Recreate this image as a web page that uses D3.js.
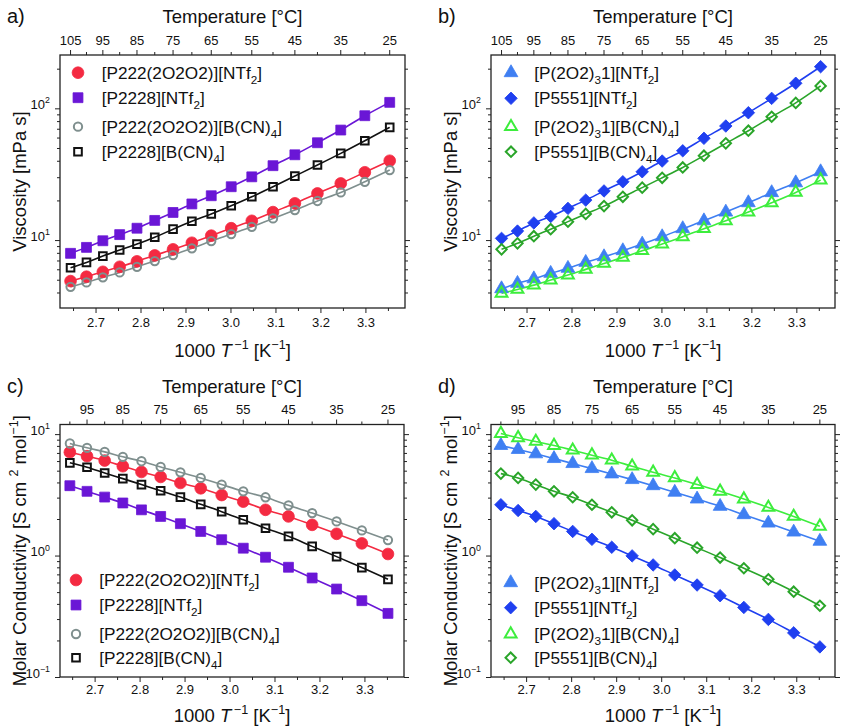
<!DOCTYPE html>
<html>
<head>
<meta charset="utf-8">
<script src="https://cdn.jsdelivr.net/npm/d3@7"></script>
<style>
  body { margin: 0; background: #fff; }
  svg { display: block; font-family: "Liberation Sans", Arial, sans-serif; }
</style>
</head>
<body>
<svg id="chart" width="843" height="728"></svg>
<script>
// measurement temperatures [°C]
const tempsVisc = [105, 100, 95, 90, 85, 80, 75, 70, 65, 60, 55, 50, 45, 40, 35, 30, 25]
const tempsCond = [100, 95, 90, 85, 80, 75, 70, 65, 60, 55, 50, 45, 40, 35, 30, 25]

// tick labels
const bottomMajor = [2.7, 2.8, 2.9, 3.0, 3.1, 3.2, 3.3]
const bottomMinor = [2.65, 2.75, 2.85, 2.95, 3.05, 3.15, 3.25, 3.35]
const topMajorVisc = [105, 95, 85, 75, 65, 55, 45, 35, 25]
const topMinorVisc = [100, 90, 80, 70, 60, 50, 40, 30]
const topMajorCond = [95, 85, 75, 65, 55, 45, 35, 25]
const topMinorCond = [100, 90, 80, 70, 60, 50, 40, 30]

// a) viscosity [mPa s]
const viscP222_NTf2 = [4.88, 5.27, 5.74, 6.27, 6.89, 7.65, 8.50, 9.54, 10.8, 12.3, 14.0, 16.3, 19.0, 22.6, 26.9, 32.7, 40.0]
const viscP2228_NTf2 = [7.93, 8.80, 9.88, 11.0, 12.3, 14.1, 16.2, 18.8, 21.7, 25.4, 30.2, 36.7, 44.4, 54.8, 68.4, 87.9, 111]
const viscP222_BCN4 = [4.42, 4.77, 5.21, 5.68, 6.27, 6.93, 7.69, 8.65, 9.83, 11.1, 12.6, 14.6, 16.9, 19.8, 23.0, 27.7, 34.0]
const viscP2228_BCN4 = [6.16, 6.77, 7.56, 8.40, 9.32, 10.5, 12.1, 13.9, 15.8, 18.2, 21.3, 25.4, 30.6, 37.1, 45.5, 56.8, 71.7]

// b) viscosity [mPa s]
const viscP2O2_NTf2 = [4.27, 4.69, 5.08, 5.59, 6.10, 6.77, 7.47, 8.30, 9.32, 10.6, 12.2, 14.0, 16.3, 19.2, 22.9, 27.2, 33.0]
const viscP5551_NTf2 = [10.3, 11.7, 13.5, 15.1, 17.4, 20.1, 23.6, 27.7, 33.0, 39.8, 47.6, 59.2, 73.4, 92.6, 119, 155, 207]
const viscP2O2_BCN4 = [3.94, 4.22, 4.55, 4.97, 5.42, 5.99, 6.65, 7.39, 8.30, 9.32, 10.6, 12.2, 14.0, 16.3, 19.2, 23.0, 28.5]
const viscP5551_BCN4 = [8.50, 9.44, 10.7, 12.1, 13.8, 15.8, 18.1, 21.3, 25.0, 29.7, 35.6, 43.7, 54.2, 67.6, 86.3, 110, 148]

// c) molar conductivity [S cm2 mol-1]
const condP222_NTf2 = [7.10, 6.58, 6.06, 5.44, 4.88, 4.44, 3.96, 3.58, 3.15, 2.78, 2.38, 2.10, 1.79, 1.51, 1.26, 1.03]
const condP2228_NTf2 = [3.76, 3.38, 3.03, 2.71, 2.38, 2.10, 1.83, 1.58, 1.35, 1.15, 0.969, 0.801, 0.654, 0.530, 0.425, 0.334]
const condP222_BCN4 = [8.37, 7.71, 7.14, 6.50, 5.98, 5.37, 4.85, 4.36, 3.84, 3.38, 3.02, 2.59, 2.24, 1.91, 1.61, 1.34]
const condP2228_BCN4 = [5.80, 5.34, 4.79, 4.30, 3.84, 3.42, 3.03, 2.64, 2.30, 1.97, 1.68, 1.44, 1.19, 0.98, 0.796, 0.637]

// d) molar conductivity [S cm2 mol-1]
const condP2O2_NTf2 = [8.06, 7.47, 6.88, 6.29, 5.72, 5.20, 4.70, 4.22, 3.76, 3.32, 2.92, 2.54, 2.17, 1.85, 1.56, 1.31]
const condP5551_NTf2 = [2.62, 2.35, 2.10, 1.83, 1.58, 1.36, 1.17, 0.994, 0.837, 0.692, 0.572, 0.467, 0.374, 0.298, 0.231, 0.177]
const condP2O2_BCN4 = [10.1, 9.33, 8.70, 8.06, 7.37, 6.71, 6.10, 5.44, 4.85, 4.36, 3.84, 3.38, 2.92, 2.49, 2.10, 1.74]
const condP5551_BCN4 = [4.73, 4.36, 3.84, 3.38, 3.02, 2.62, 2.27, 1.95, 1.65, 1.39, 1.16, 0.963, 0.786, 0.637, 0.504, 0.386]

// legend names (text parts, sub = subscript)
const namesP222 = [
  [{t: "[P222(2O2O2)][NTf"}, {t: "2", sub: 1}, {t: "]"}],
  [{t: "[P2228][NTf"}, {t: "2", sub: 1}, {t: "]"}],
  [{t: "[P222(2O2O2)][B(CN)"}, {t: "4", sub: 1}, {t: "]"}],
  [{t: "[P2228][B(CN)"}, {t: "4", sub: 1}, {t: "]"}]
]
const namesP5551 = [
  [{t: "[P(2O2)"}, {t: "3", sub: 1}, {t: "1][NTf"}, {t: "2", sub: 1}, {t: "]"}],
  [{t: "[P5551][NTf"}, {t: "2", sub: 1}, {t: "]"}],
  [{t: "[P(2O2)"}, {t: "3", sub: 1}, {t: "1][B(CN)"}, {t: "4", sub: 1}, {t: "]"}],
  [{t: "[P5551][B(CN)"}, {t: "4", sub: 1}, {t: "]"}]
]

const colRed = "#f42a41", colPurple = "#6a16d6", colGray = "#7f8f8e", colBlack = "#111111"
const colLBlue = "#3f7ff2", colDBlue = "#1f3ff0", colLGreen = "#3ded3d", colDGreen = "#2aa52a"

const svg = d3.select("#chart")
const inv = t => 1000 / (t + 273.15)

// appends tspans with sub/superscripts to a text element
function rich(text, parts, size) {
  let shift = 0
  parts.forEach(p => {
    let want = p.sub ? 0.3 * size : (p.sup ? -0.42 * size : 0)
    let ts = text.append("tspan").text(p.t).attr("dy", want - shift)
    if (p.sub || p.sup) ts.attr("font-size", size * 0.68)
    if (p.it) ts.attr("font-style", "italic")
    shift = want
  })
}

// marker path, centered at 0,0
function marker(shape, filled) {
  if (shape == "circle") return d3.symbol(d3.symbolCircle, filled ? 108 : 54)()
  if (shape == "square") return d3.symbol(d3.symbolSquare, filled ? 98 : 58)()
  if (shape == "triangle") return d3.symbol(d3.symbolTriangle, filled ? 82 : 60)()
  return d3.symbol(d3.symbolSquare, filled ? 78 : 54)()
}

function drawMarker(sel, s) {
  sel.append("path")
    .attr("d", marker(s.shape, s.filled))
    .attr("transform", s.shape == "diamond" ? "rotate(45)" : null)
    .attr("fill", s.filled ? s.color : "none")
    .attr("stroke", s.color)
    .attr("stroke-width", s.filled ? 0.8 : 2)
}

function drawPanel(p) {
  const box = p.box
  const g = svg.append("g")
  const x = d3.scaleLinear().domain(p.xDom).range([box.l, box.r])
  const xt = d3.scaleLinear().domain(p.xTopDom).range([box.l, box.r])
  const y = d3.scaleLog().domain(p.yDom).range([box.b, box.t])

  const styleAxis = a => {
    a.select(".domain").remove()
    a.attr("font-family", null).attr("font-size", 13).attr("color", "#222")
    a.selectAll("text").attr("fill", "#111")
  }

  // bottom axis
  g.append("g").attr("transform", `translate(0,${box.b})`)
    .call(d3.axisBottom(x).tickValues(bottomMajor).tickFormat(d3.format(".1f")).tickSize(5).tickPadding(p.botPad))
    .call(styleAxis)
  g.append("g").attr("transform", `translate(0,${box.b})`)
    .call(d3.axisBottom(x).tickValues(bottomMinor).tickFormat("").tickSize(3))
    .call(styleAxis)

  // top axis (temperature)
  const xT = d => xt(inv(d))
  const topMaj = g.append("g").attr("transform", `translate(0,${box.t})`)
  topMaj.selectAll("line").data(p.topMajor).join("line")
    .attr("x1", xT).attr("x2", xT).attr("y1", 0).attr("y2", -5).attr("stroke", "#222")
  topMaj.selectAll("line.minor").data(p.topMinor).join("line").attr("class", "minor")
    .attr("x1", xT).attr("x2", xT).attr("y1", 0).attr("y2", -3).attr("stroke", "#222")
  topMaj.selectAll("text").data(p.topMajor).join("text")
    .attr("x", xT).attr("y", -10.5).attr("text-anchor", "middle")
    .attr("font-size", 13).attr("fill", "#111").text(d => d)

  // left + right log axes
  const yt = y.ticks()
  const yMaj = yt.filter(v => Math.abs(Math.log10(v) - Math.round(Math.log10(v))) < 1e-6)
  const yMin = yt.filter(v => !yMaj.includes(v))
  g.append("g").attr("transform", `translate(${box.l},0)`)
    .call(d3.axisLeft(y).tickValues(yMaj).tickFormat("").tickSize(5).tickPadding(5))
    .call(styleAxis)
    .selectAll(".tick text")
    .each(function (d) {
      rich(d3.select(this), [{t: "10"}, {t: String(Math.round(Math.log10(d))).replace("-", "\u2212"), sup: 1}], 13)
    })
  g.append("g").attr("transform", `translate(${box.l},0)`)
    .call(d3.axisLeft(y).tickValues(yMin).tickFormat("").tickSize(3)).call(styleAxis)
  g.append("g").attr("transform", `translate(${box.r},0)`)
    .call(d3.axisRight(y).tickValues(yMaj).tickFormat("").tickSize(5)).call(styleAxis)
  g.append("g").attr("transform", `translate(${box.r},0)`)
    .call(d3.axisRight(y).tickValues(yMin).tickFormat("").tickSize(3)).call(styleAxis)

  // frame
  g.append("rect").attr("x", box.l).attr("y", box.t)
    .attr("width", box.r - box.l).attr("height", box.b - box.t)
    .attr("fill", "none").attr("stroke", "#222").attr("stroke-width", 1.3)

  // titles
  g.append("text").attr("x", box.l - 53).attr("y", box.t - 32)
    .attr("font-size", 20).attr("fill", "#111").text(p.letter + ")")
  g.append("text").attr("x", (box.l + box.r) / 2).attr("y", box.t - 31.7)
    .attr("text-anchor", "middle").attr("font-size", 18.5).attr("fill", "#111").text("Temperature [°C]")
  const xtitle = g.append("text").attr("x", (box.l + box.r) / 2).attr("y", box.b + p.xTitleOff)
    .attr("text-anchor", "middle").attr("font-size", 18.5).attr("fill", "#111")
  rich(xtitle, [{t: "1000 "}, {t: "T", it: 1}, {t: "\u2009\u22121", sup: 1}, {t: " [K"}, {t: "\u22121", sup: 1}, {t: "]"}], 18.5)
  const ytitle = g.append("text")
    .attr("transform", `translate(${box.l - 34},${(box.t + box.b) / 2}) rotate(-90)`)
    .attr("text-anchor", "middle").attr("font-size", 18.5).attr("fill", "#111")
  rich(ytitle, p.yTitle, 18.5)

  // lines and markers
  const clip = "clip" + p.letter
  g.append("clipPath").attr("id", clip).append("rect")
    .attr("x", box.l).attr("y", box.t).attr("width", box.r - box.l).attr("height", box.b - box.t)
  const plot = g.append("g").attr("clip-path", `url(#${clip})`)
  p.series.forEach(s => {
    const line = d3.line()
      .x((d, i) => xt(inv(p.temps[i])))
      .y(d => y(d))
      .curve(d3.curveMonotoneX)
    plot.append("path").datum(s.values)
      .attr("d", line).attr("fill", "none").attr("stroke", s.color).attr("stroke-width", 1.6)
  })
  p.series.forEach(s => {
    plot.append("g").selectAll("g").data(s.values).join("g")
      .attr("transform", (d, i) => `translate(${xt(inv(p.temps[i]))},${y(d)})`)
      .each(function () { drawMarker(d3.select(this), s) })
  })

  // legend
  p.series.forEach((s, i) => {
    const ly = p.legend.ys[i]
    drawMarker(g.append("g").attr("transform", `translate(${p.legend.mx},${ly})`), s)
    const t = g.append("text").attr("x", p.legend.tx).attr("y", ly + 5.8)
      .attr("font-size", 17.2).attr("fill", "#111")
    rich(t, s.name, 17.2)
  })
}

const yTitleVisc = [{t: "Viscosity [mPa s]"}]
const yTitleCond = [{t: "Molar Conductivity [S cm "}, {t: "2", sup: 1}, {t: " mol"}, {t: "\u22121", sup: 1}, {t: "]"}]

drawPanel({
  letter: "a", box: {l: 60, r: 405, t: 55, b: 308},
  xDom: [2.621, 3.388], xTopDom: [2.621, 3.388], yDom: [3.05, 254],
  temps: tempsVisc, topMajor: topMajorVisc, topMinor: topMinorVisc,
  botPad: 4.8, xTitleOff: 48.7, yTitle: yTitleVisc,
  legend: {mx: 78, tx: 101.7, ys: [72.7, 97.7, 126.7, 151.7]},
  series: [
    {name: namesP222[0], color: colRed, shape: "circle", filled: true, values: viscP222_NTf2},
    {name: namesP222[1], color: colPurple, shape: "square", filled: true, values: viscP2228_NTf2},
    {name: namesP222[2], color: colGray, shape: "circle", filled: false, values: viscP222_BCN4},
    {name: namesP222[3], color: colBlack, shape: "square", filled: false, values: viscP2228_BCN4}
  ]
})

drawPanel({
  letter: "b", box: {l: 491, r: 835, t: 55, b: 308},
  xDom: [2.621, 3.386], xTopDom: [2.621, 3.386], yDom: [3.05, 254],
  temps: tempsVisc, topMajor: topMajorVisc, topMinor: topMinorVisc,
  botPad: 4.8, xTitleOff: 48.7, yTitle: yTitleVisc,
  legend: {mx: 511, tx: 534.3, ys: [72.7, 98.3, 126.7, 151.7]},
  series: [
    {name: namesP5551[0], color: colLBlue, shape: "triangle", filled: true, values: viscP2O2_NTf2},
    {name: namesP5551[1], color: colDBlue, shape: "diamond", filled: true, values: viscP5551_NTf2},
    {name: namesP5551[2], color: colLGreen, shape: "triangle", filled: false, values: viscP2O2_BCN4},
    {name: namesP5551[3], color: colDGreen, shape: "diamond", filled: false, values: viscP5551_BCN4}
  ]
})

drawPanel({
  letter: "c", box: {l: 60, r: 404, t: 424.5, b: 677},
  xDom: [2.623, 3.388], xTopDom: [2.659, 3.388], yDom: [0.1, 12.0],
  temps: tempsCond, topMajor: topMajorCond, topMinor: topMinorCond,
  botPad: 2.3, xTitleOff: 44.7, yTitle: yTitleCond,
  legend: {mx: 76, tx: 99.3, ys: [580, 605, 634, 657.7]},
  series: [
    {name: namesP222[0], color: colRed, shape: "circle", filled: true, values: condP222_NTf2},
    {name: namesP222[1], color: colPurple, shape: "square", filled: true, values: condP2228_NTf2},
    {name: namesP222[2], color: colGray, shape: "circle", filled: false, values: condP222_BCN4},
    {name: namesP222[3], color: colBlack, shape: "square", filled: false, values: condP2228_BCN4}
  ]
})

drawPanel({
  letter: "d", box: {l: 491, r: 835, t: 424.5, b: 677},
  xDom: [2.622, 3.386], xTopDom: [2.659, 3.386], yDom: [0.1, 12.0],
  temps: tempsCond, topMajor: topMajorCond, topMinor: topMinorCond,
  botPad: 2.3, xTitleOff: 44.7, yTitle: yTitleCond,
  legend: {mx: 510.7, tx: 534.3, ys: [582.7, 607.7, 634, 657.7]},
  series: [
    {name: namesP5551[0], color: colLBlue, shape: "triangle", filled: true, values: condP2O2_NTf2},
    {name: namesP5551[1], color: colDBlue, shape: "diamond", filled: true, values: condP5551_NTf2},
    {name: namesP5551[2], color: colLGreen, shape: "triangle", filled: false, values: condP2O2_BCN4},
    {name: namesP5551[3], color: colDGreen, shape: "diamond", filled: false, values: condP5551_BCN4}
  ]
})
</script>
</body>
</html>
